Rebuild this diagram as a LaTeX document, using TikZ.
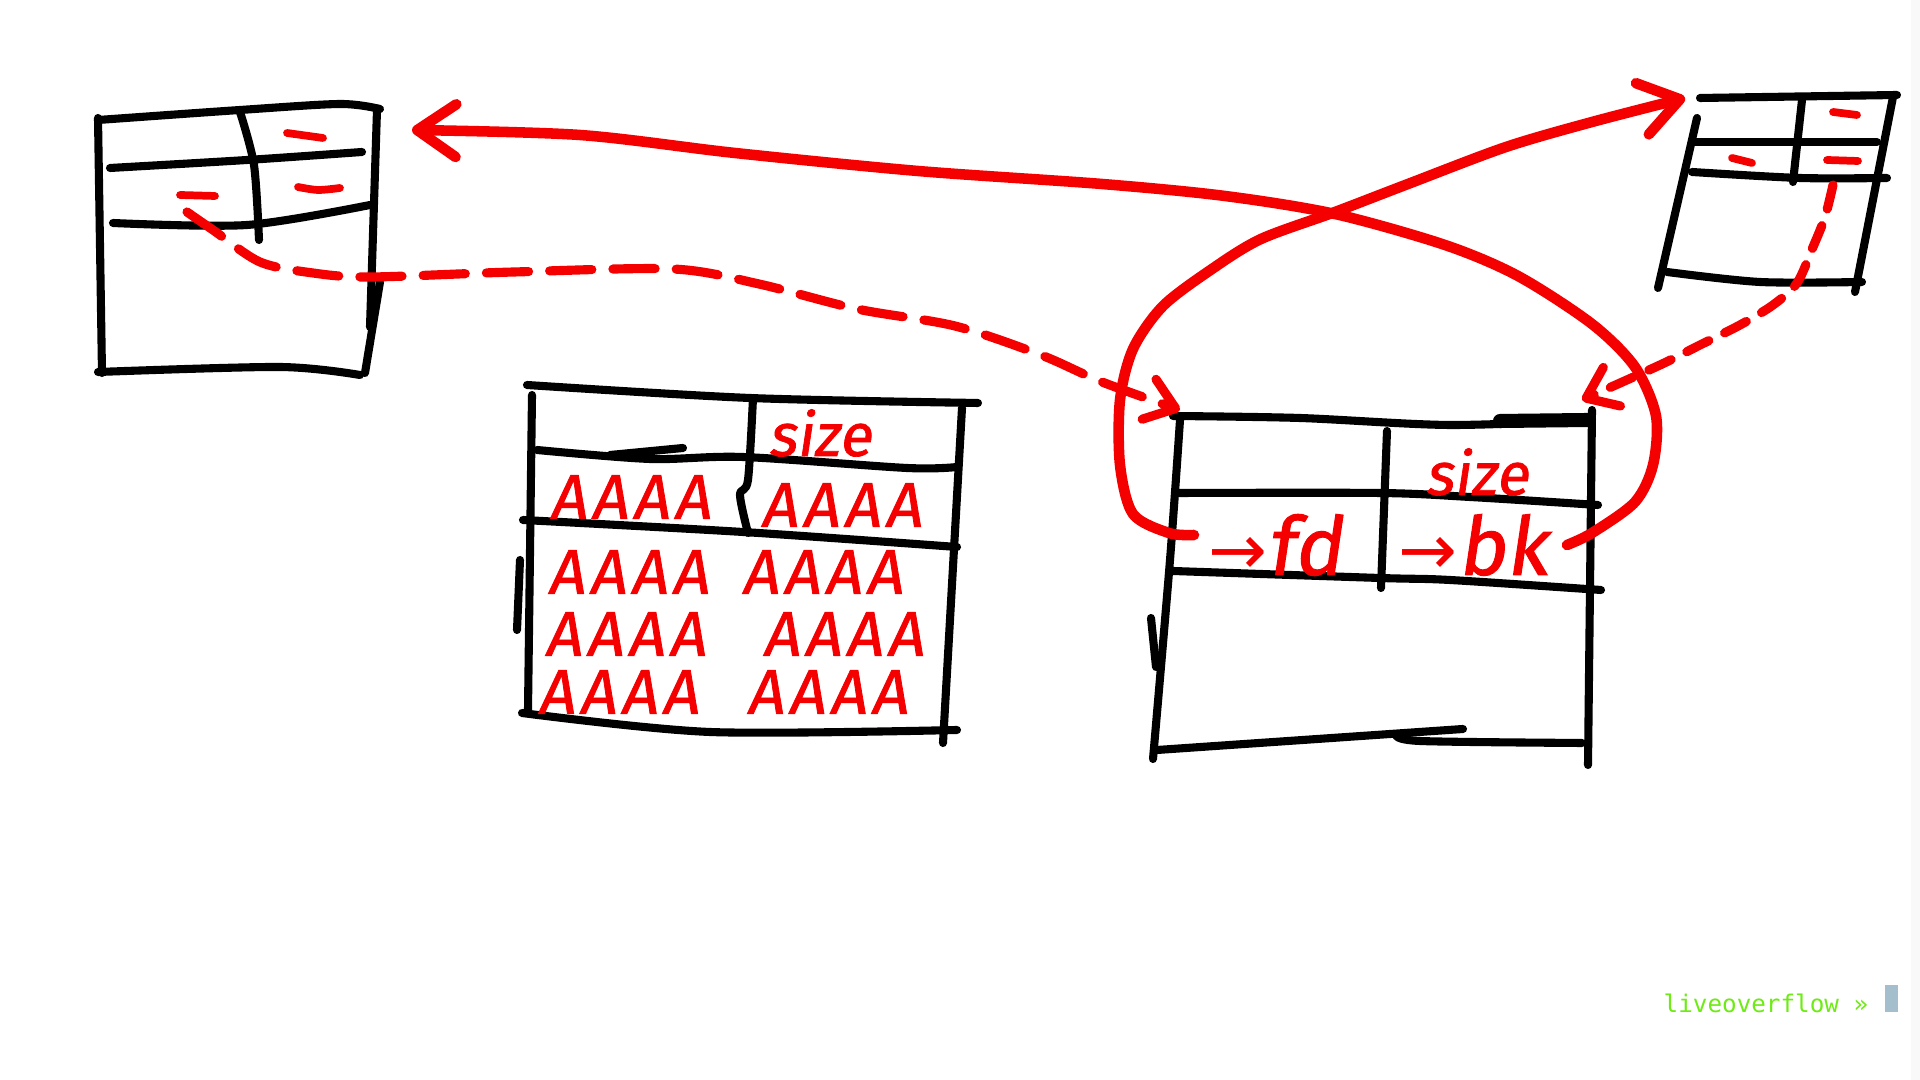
\documentclass[tikz,border=0pt]{standalone}
\usepackage{fontspec}
\usetikzlibrary{calc, positioning, arrows.meta}
\newfontfamily\handfont{Fira Sans}[FakeSlant=0.15, FakeBold=1.2]
\newfontfamily\widehand{Fira Sans}[FakeSlant=0.15, FakeBold=1.2, LetterSpace=8]
\newfontfamily\symfont{DejaVu Sans}
\newfontfamily\termfont{DejaVu Sans Mono}
\definecolor{hred}{RGB}{245,0,0}
\definecolor{term}{RGB}{110,235,20}
\definecolor{curs}{RGB}{165,190,205}
\tikzstyle{ink}=[line width=2.3pt, line cap=round, line join=round]
\tikzstyle{pen}=[line width=3pt, line cap=round, line join=round, hred]
\tikzstyle{dashpen}=[pen, line width=2.6pt, dash pattern=on 12pt off 6pt]
\tikzstyle{dab}=[pen, line width=2.2pt]
\tikzstyle{hand}=[text=hred, inner sep=0pt, font=\handfont\fontsize{17}{17}\selectfont]
\tikzstyle{ahand}=[hand, font=\widehand\fontsize{18}{18}\selectfont]
\tikzstyle{bighand}=[hand, font=\handfont\fontsize{23}{23}\selectfont]
\tikzset{>={Straight Barb[length=11pt,width=15pt,round]}}

\begin{document}
\begin{tikzpicture}[x=0.01cm, y=-0.01cm]
\useasboundingbox (0,0) rectangle (1920,1080);
\fill[gray!5] (1911,0) rectangle (1920,1080);

% upper left chunk
\draw[ink] plot[smooth] coordinates {(98,120) (240,110) (340,104) (380,109)};
\draw[ink] (98,118) -- (102,373);
\draw[ink] (377,110) -- (370,327);
\draw[ink] (380,282) -- (365,373);
\draw[ink] plot[smooth] coordinates {(98,372) (280,367) (360,375)};
\draw[ink] plot[smooth] coordinates {(110,168) (247,160) (362,152)};
\draw[ink] plot[smooth] coordinates {(113,223) (247,225) (370,205)};
\draw[ink] plot[smooth] coordinates {(240,112) (254,165) (259,240)};
\draw[dab] (287,133) -- (323,138);
\draw[dab] plot[smooth] coordinates {(298,187) (318,190) (340,188)};
\draw[dab] (180,195) -- (215,196);

% upper right chunk
\draw[ink] (1700,98) -- (1897,95);
\draw[ink] (1697,118) -- (1658,288);
\draw[ink] (1893,97) -- (1855,292);
\draw[ink] (1695,142) -- (1877,142);
\draw[ink] plot[smooth] coordinates {(1692,172) (1800,178) (1887,178)};
\draw[ink] plot[smooth] coordinates {(1667,272) (1760,282) (1862,282)};
\draw[ink] (1802,100) -- (1793,182);
\draw[dab] (1833,112) -- (1857,115);
\draw[dab] (1827,160) -- (1858,161);
\draw[dab] (1732,158) -- (1752,163);

% overflowing chunk
\draw[ink] plot[smooth] coordinates {(527,385) (750,398) (978,403)};
\draw[ink] (532,395) -- (528,710);
\draw[ink] (520,560) -- (517,630);
\draw[ink] (962,408) -- (943,743);
\draw[ink] plot[smooth] coordinates {(537,450) (650,459) (743,457) (907,468) (957,467)};
\draw[ink] (610,455) -- (683,448);
\draw[ink] plot[smooth] coordinates {(523,520) (743,532) (957,547)};
\draw[ink] plot[smooth] coordinates {(522,713) (710,732) (957,730)};
\draw[ink] plot[smooth] coordinates {(753,398) (748,480) (740,495) (748,533)};
\node[hand] (sizeM) at (820,433) {size};
\node[ahand] (aL1) at (630,497) {AAAA};
\node[ahand] (aR1) at (841,505) {AAAA};
\foreach \y/\xl/\xr [count=\i from 2] in {572/628/822, 634/625/843, 692/618/827}{
\node[ahand] (aL\i) at (\xl,\y) {AAAA};
\node[ahand] (aR\i) at (\xr,\y) {AAAA};
}

% freed chunk
\draw[ink] plot[smooth] coordinates {(1173,416) (1300,418) (1450,425) (1592,420)};
\draw[ink, line width=4pt] (1500,421) -- (1588,420);
\draw[ink] plot[smooth] coordinates {(1180,420) (1170,560) (1153,759)};
\draw[ink] (1151,618) -- (1156,667);
\draw[ink] (1592,410) -- (1588,765);
\draw[ink] plot[smooth] coordinates {(1178,493) (1380,493) (1470,497) (1598,505)};
\draw[ink] plot[smooth] coordinates {(1173,571) (1380,578) (1450,580) (1601,590)};
\draw[ink] (1157,750) -- (1463,729);
\draw[ink] plot[smooth] coordinates {(1396,735) (1420,741) (1582,743)};
\draw[ink] (1387,431) -- (1381,588);
\node[hand] (sizeB) at (1477,472) {size};
\node[bighand] (fdtext) at (1275,545) {{\symfont\fontsize{20}{20}\selectfont →}fd};
\node[bighand] (bktext) at (1473,545) {{\symfont\fontsize{20}{20}\selectfont →}bk};

% pointers
\coordinate (Bfd) at (1194,535);
\coordinate (Bbk) at (1567,545);
\coordinate (Abk) at (187,212);
\coordinate (Cbk) at (1833,185);
\coordinate (Atop) at (412,130);
\coordinate (Ctop) at (1685,98);
\coordinate (Btl) at (1180,410);
\coordinate (Btr) at (1582,400);
\draw[pen,->] plot[smooth] coordinates {(Bfd) (1169,533) (1133,514) (1120,465) (1120,400) (1133,349) (1163,306) (1212,269) (1261,239) (1335,212) (1408,184) (1506,147) (1592,122) (Ctop)};
\draw[pen,->] plot[smooth] coordinates {(Bbk) (1592,533) (1635,502) (1653,465) (1656,416) (1635,367) (1592,324) (1518,276) (1445,245) (1335,214) (1225,196) (1102,184) (918,171) (735,153) (580,135) (Atop)};
\draw[dashpen,-{Straight Barb[length=8pt,width=12pt,round]}] plot[smooth] coordinates {(Abk) (213,230) (260,262) (313,273) (370,277) (514,272) (673,269) (759,284) (857,309) (955,326) (1041,355) (1102,382) (Btl)};
\draw[dashpen, dash pattern=on 7pt off 5pt, -{Straight Barb[length=8pt,width=12pt,round]}] plot[smooth] coordinates {(Cbk) (1825,217) (1813,247) (1797,283) (1773,305) (1740,325) (1700,345) (1660,365) (Btr)};

% terminal prompt
\node[anchor=west, text=term, inner sep=0pt, font=\termfont\fontsize{6.9}{8}\selectfont] (prompt) at (1663,1003) {liveoverflow »};
\fill[curs] (1885,985) rectangle (1898,1012);
\end{tikzpicture}
\end{document}
